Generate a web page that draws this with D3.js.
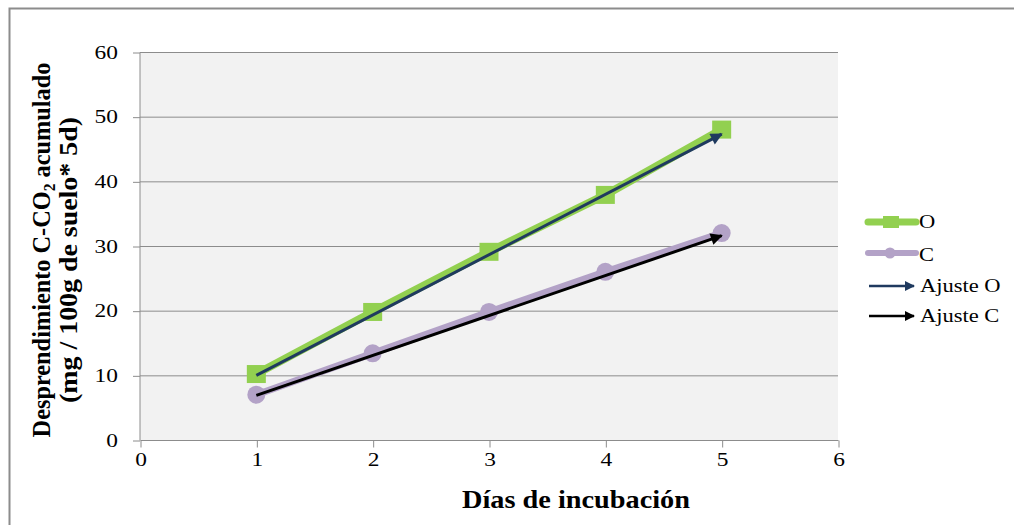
<!DOCTYPE html>
<html><head><meta charset="utf-8">
<script src="https://cdn.jsdelivr.net/npm/d3@7"></script>
<style>body{margin:0;background:#fff}svg{display:block}</style>
</head><body>
<svg id="c" width="1014" height="525"></svg>
<script>
const days = [1, 2, 3, 4, 5];
const serieO = [10.2, 19.8, 29.1, 37.9, 48.0];
const serieC = [7.0, 13.4, 19.8, 26.0, 32.0];
const ajusteO = [[1, 10.0], [5, 47.3]];
const ajusteC = [[1, 6.9], [5, 31.6]];
const xTicks = [0, 1, 2, 3, 4, 5, 6];
const yTicks = [0, 10, 20, 30, 40, 50, 60];
const legendLabels = ["O", "C", "Ajuste O", "Ajuste C"];

const svg = d3.select("#c");
const font = "'Liberation Serif','Times New Roman',serif";
const STRETCH = 1.3;
function stretch(sel, f) {
  sel.each(function () {
    const w = this.getComputedTextLength();
    d3.select(this).attr("textLength", w * f).attr("lengthAdjust", "spacingAndGlyphs");
  });
}

svg.append("rect").attr("x", 9.5).attr("y", 8.5).attr("width", 1020).attr("height", 530)
  .attr("fill", "#fff").attr("stroke", "#8c8c8c").attr("stroke-width", 2);

const x = d3.scaleLinear().domain([0, 6]).range([140, 838]);
const y = d3.scaleLinear().domain([0, 60]).range([440, 52]);

svg.append("rect").attr("x", x(0)).attr("y", y(60)).attr("width", x(6) - x(0)).attr("height", y(0) - y(60)).attr("fill", "#f2f2f2");

svg.append("g").selectAll("line").data(yTicks.filter(d => d > 0)).join("line")
  .attr("x1", x(0)).attr("x2", x(6)).attr("y1", d => y(d) + 0.5).attr("y2", d => y(d) + 0.5)
  .attr("stroke", "#8c8c8c").attr("stroke-width", 1);

const yAxis = svg.append("g").attr("transform", `translate(${x(0)},0.5)`)
  .call(d3.axisLeft(y).tickValues(yTicks).tickFormat(d3.format("d")).tickSize(7).tickPadding(15));
const xAxis = svg.append("g").attr("transform", `translate(0.5,${y(0) + 0.5})`)
  .call(d3.axisBottom(x).tickValues(xTicks).tickFormat(d3.format("d")).tickSize(7).tickPadding(6));
[yAxis, xAxis].forEach(a => {
  a.selectAll("path,line").attr("stroke", "#8c8c8c");
  a.selectAll("text").attr("font-family", font).attr("font-size", 18).attr("fill", "#000");
  stretch(a.selectAll("text"), STRETCH);
});
xAxis.select(".domain").attr("d", `M${x(0)},0H${x(6)}`);
yAxis.select(".domain").attr("d", `M0,${y(60)}V${y(0)}`);

const line = d3.line().x(d => x(d[0])).y(d => y(d[1]));
const ptsO = days.map((d, i) => [d, serieO[i]]);
const ptsC = days.map((d, i) => [d, serieC[i]]);

svg.append("path").attr("d", line(ptsO)).attr("fill", "none").attr("stroke", "#92d050").attr("stroke-width", 8).attr("stroke-linejoin", "round");
svg.append("g").selectAll("rect").data(ptsO).join("rect")
  .attr("x", d => x(d[0]) - 9.5).attr("y", d => y(d[1]) - 9).attr("width", 19).attr("height", 18).attr("fill", "#92d050");

svg.append("path").attr("d", line(ptsC)).attr("fill", "none").attr("stroke", "#b3a2c7").attr("stroke-width", 7).attr("stroke-linejoin", "round");
svg.append("g").selectAll("circle").data(ptsC).join("circle")
  .attr("cx", d => x(d[0])).attr("cy", d => y(d[1])).attr("r", 9).attr("fill", "#b3a2c7");

const defs = svg.append("defs");
function marker(id, color) {
  defs.append("marker").attr("id", id).attr("viewBox", "0 0 10 10").attr("refX", 9).attr("refY", 5)
    .attr("markerWidth", 4.5).attr("markerHeight", 4).attr("orient", "auto").attr("markerUnits", "strokeWidth")
    .append("path").attr("d", "M0,0L10,5L0,10z").attr("fill", color);
}
marker("aO", "#1f3a5f");
marker("aC", "#000");

svg.append("path").attr("d", line(ajusteO)).attr("fill", "none").attr("stroke", "#1f3a5f").attr("stroke-width", 3).attr("marker-end", "url(#aO)");
svg.append("path").attr("d", line(ajusteC)).attr("fill", "none").attr("stroke", "#000").attr("stroke-width", 3).attr("marker-end", "url(#aC)");

// legend
const lg = svg.append("g").attr("font-family", font).attr("font-size", 18);
const ly = [222, 253, 286, 316];
lg.append("line").attr("x1", 868).attr("x2", 916).attr("y1", ly[0]).attr("y2", ly[0]).attr("stroke", "#92d050").attr("stroke-width", 7).attr("stroke-linecap", "round");
lg.append("rect").attr("x", 883).attr("y", ly[0] - 6).attr("width", 16).attr("height", 12).attr("fill", "#92d050");
lg.append("line").attr("x1", 868).attr("x2", 916).attr("y1", ly[1]).attr("y2", ly[1]).attr("stroke", "#b3a2c7").attr("stroke-width", 6).attr("stroke-linecap", "round");
lg.append("circle").attr("cx", 890).attr("cy", ly[1]).attr("r", 5.5).attr("fill", "#b3a2c7");
lg.append("line").attr("x1", 869).attr("x2", 914).attr("y1", ly[2]).attr("y2", ly[2]).attr("stroke", "#1f3a5f").attr("stroke-width", 2.5).attr("marker-end", "url(#aO)");
lg.append("line").attr("x1", 869).attr("x2", 914).attr("y1", ly[3]).attr("y2", ly[3]).attr("stroke", "#000").attr("stroke-width", 2.5).attr("marker-end", "url(#aC)");
const lx = [919, 919, 920, 920];
const lb = [228, 261, 292, 322];
legendLabels.forEach((t, i) => {
  lg.append("text").attr("x", lx[i]).attr("y", lb[i]).text(t);
});
stretch(lg.selectAll("text"), 1.25);

// axis titles
svg.append("text").attr("x", 576).attr("y", 508).attr("text-anchor", "middle")
  .attr("font-family", font).attr("font-weight", "bold").attr("font-size", 25)
  .attr("textLength", 228).attr("lengthAdjust", "spacingAndGlyphs").text("Días de incubación");

const yt = svg.append("g").attr("transform", "translate(0,250) rotate(-90)")
  .attr("font-family", font).attr("font-weight", "bold").attr("font-size", 25).attr("text-anchor", "middle");
const t1 = yt.append("text").attr("x", 0).attr("y", 50);
t1.append("tspan").text("Desprendimiento C-CO");
t1.append("tspan").attr("font-size", 16).attr("dy", 5).text("2");
t1.append("tspan").attr("dy", -5).text(" acumulado");
const t2 = yt.append("text").attr("x", 0).attr("y", 77).text("(mg / 100g de suelo* 5d)");
[[t1, 375], [t2, 286]].forEach(([t, len]) => {
  const w = t.node().getComputedTextLength();
  const f = len / w;
  const cx = t === t2 ? -10 : 0;
  t.attr("x", cx / f).attr("transform", `scale(${f},1)`);
});
</script>
</body></html>
